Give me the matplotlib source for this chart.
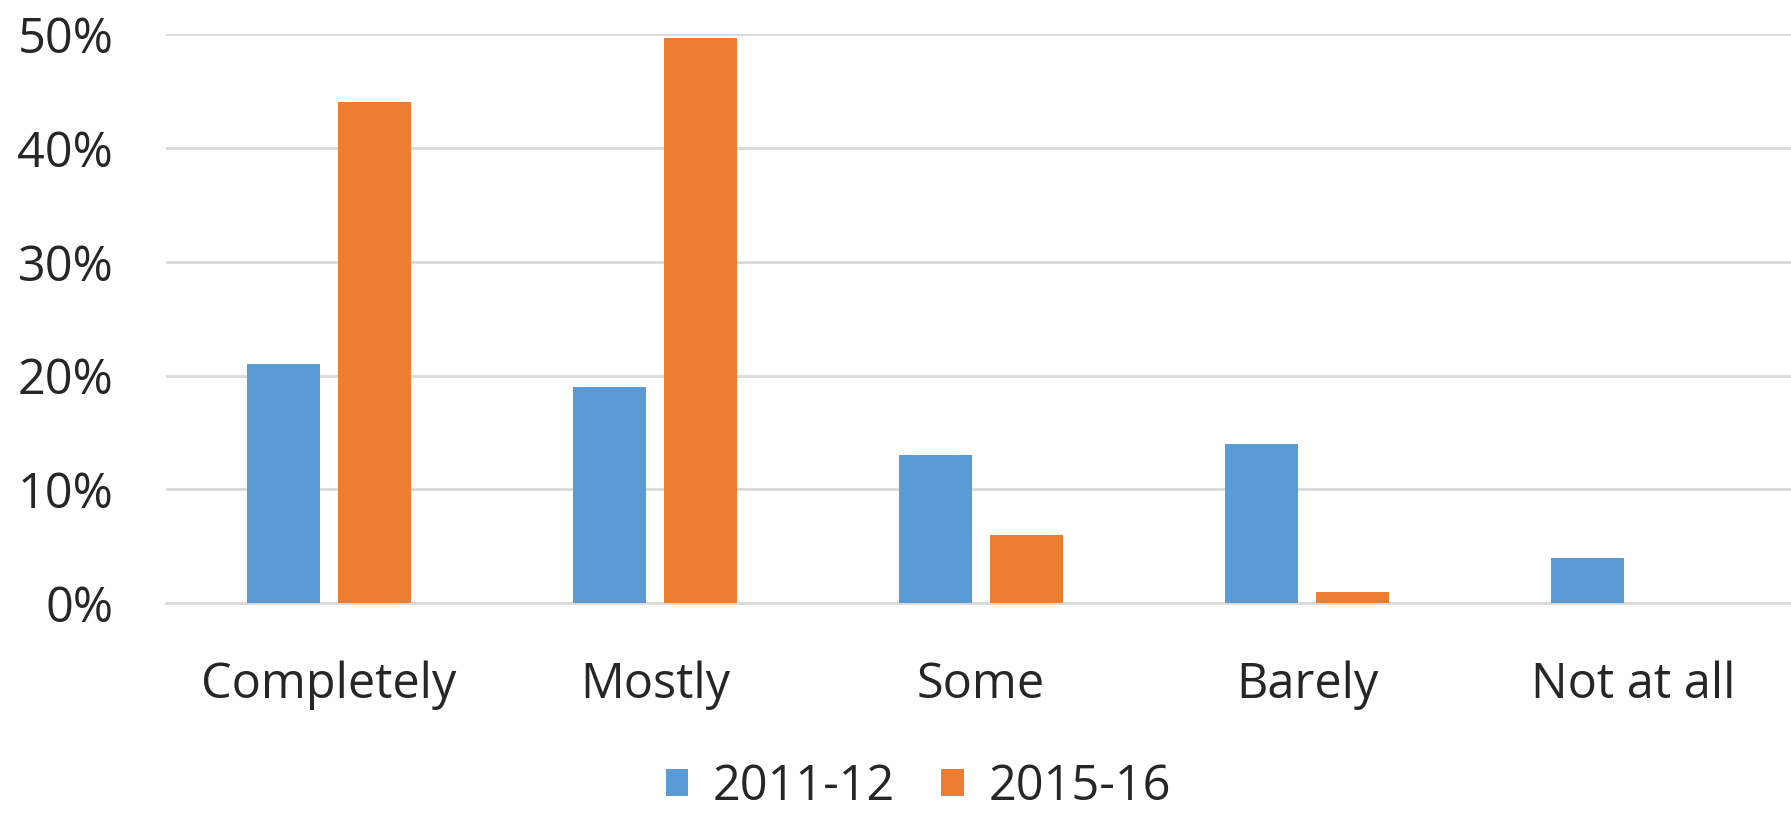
import matplotlib
matplotlib.use("Agg")
import matplotlib.pyplot as plt
import numpy as np

# Datos
categories = ["Completely", "Mostly", "Some", "Barely", "Not at all"]
series_names = ["2011-12", "2015-16"]
values_2011 = [21, 19, 13, 14, 4]
values_2015 = [44, 49.7, 6, 1, 0]
y_ticks = [0, 10, 20, 30, 40, 50]

blue = "#5B9BD5"
orange = "#ED7D31"
grid_col = "#D9D9D9"
text_col = "#262626"

plt.rcParams["font.family"] = ["Open Sans", "DejaVu Sans"]

fig = plt.figure(figsize=(17.91, 8.15), dpi=100)
ax = fig.add_axes([0.0927, 0.260, 0.9101, 0.698])

x = np.arange(len(categories))
w = 0.224
off = 0.14
ax.bar(x - off, values_2011, w, color=blue, label=series_names[0], zorder=3)
ax.bar(x + off, values_2015, w, color=orange, label=series_names[1], zorder=3)

ax.set_xlim(-0.5, len(categories) - 0.5)
ax.set_ylim(0, 50)
ax.set_yticks(y_ticks)
ax.set_yticklabels([f"{v}%" for v in y_ticks])
ax.set_xticks(x)
ax.set_xticklabels(categories)

ax.yaxis.grid(True, color=grid_col, linewidth=2)
ax.set_axisbelow(True)
for s in ["top", "right", "left"]:
    ax.spines[s].set_visible(False)
ax.spines["bottom"].set_color(grid_col)
ax.spines["bottom"].set_linewidth(2)

ax.tick_params(axis="y", length=0, pad=38, labelsize=35, labelcolor=text_col)
ax.tick_params(axis="x", length=0, pad=41, labelsize=35, labelcolor=text_col)

fig.legend(loc="center", bbox_to_anchor=(0.5127, 0.034), ncol=2, frameon=False,
           fontsize=35, labelcolor=text_col, handlelength=0.47, handleheight=0.47,
           handletextpad=0.5, columnspacing=0.95)

fig.savefig("out.png", dpi=100, facecolor="white")
